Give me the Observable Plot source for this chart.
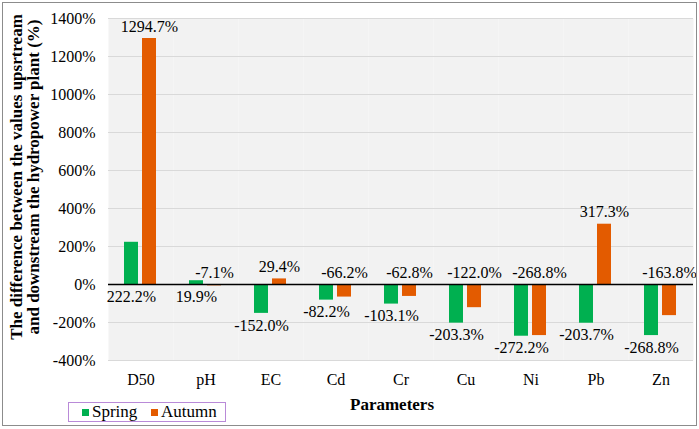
<!DOCTYPE html>
<html>
<head>
<meta charset="utf-8">
<script src="https://cdn.jsdelivr.net/npm/d3@7"></script>
<script src="https://cdn.jsdelivr.net/npm/@observablehq/plot@0.6"></script>
<style>
  html, body { margin: 0; padding: 0; background: #fff; }
  #wrap { position: relative; width: 699px; height: 429px; overflow: hidden; font-family: 'Liberation Serif', 'Times New Roman', serif; }
  #chart { position: absolute; left: 0; top: 0; }
  #chart svg, #chart svg text { font-family: 'Liberation Serif', 'Times New Roman', serif !important; }
  #border { position: absolute; left: 2px; top: 2px; width: 695px; height: 424px; box-sizing: border-box; border: 1.5px solid #8c8c8c; pointer-events: none; }
  #ytitle { position: absolute; left: 24.5px; top: 177px; transform: translate(-50%, -50%) rotate(-90deg); white-space: nowrap; text-align: center; font-weight: bold; font-size: 17px; line-height: 17px; color: #000; }
  #xtitle { position: absolute; left: 392px; top: 405px; transform: translate(-50%, -50%); white-space: nowrap; font-weight: bold; font-size: 17px; color: #000; }
  #legend { position: absolute; left: 68px; top: 402px; width: 158px; height: 20px; box-sizing: border-box; border: 1px solid #b98ad8; font-size: 17px; color: #000; }
  .sw { display: inline-block; width: 7px; height: 7px; margin-right: 3px; }
  .item { display: flex; align-items: center; }
</style>
</head>
<body>
<div id="wrap">
  <div id="chart"></div>
  <div id="ytitle">The difference between the values upsrtream<br>and downstream the hydropower plant (%)</div>
  <div id="xtitle">Parameters</div>
  <div id="legend"></div>
  <div id="border"></div>
</div>
<script>
const params = ["D50", "pH", "EC", "Cd", "Cr", "Cu", "Ni", "Pb", "Zn"];
const spring = [222.2, 19.9, -152.0, -82.2, -103.1, -203.3, -272.2, -203.7, -268.8];
const autumn = [1294.7, -7.1, 29.4, -66.2, -62.8, -122.0, -268.8, 317.3, -163.8];
const seasons = ["Spring", "Autumn"];
const seasonColors = ["#00b050", "#e35b00"];
const yTicks = [-400, -200, 0, 200, 400, 600, 800, 1000, 1200, 1400];

const serif = "'Liberation Serif', 'Times New Roman', serif";
const data = params.flatMap((p, i) => [
  {param: p, season: "Spring", value: spring[i]},
  {param: p, season: "Autumn", value: autumn[i]}
]);
const springData = data.filter(d => d.season === "Spring");
const autumnData = data.filter(d => d.season === "Autumn");
const fmt = d => d.value.toFixed(1) + "%";

const chart = Plot.plot({
  width: 699,
  height: 429,
  marginLeft: 106,
  marginRight: 5,
  marginTop: 18,
  marginBottom: 69,
  style: {fontFamily: serif, fontSize: "16px", color: "black", background: "transparent"},
  fx: {domain: params, padding: 0, label: null},
  x: {domain: seasons, paddingInner: 0.22, paddingOuter: 0.84, axis: null},
  y: {domain: [-400, 1400], label: null},
  color: {domain: seasons, range: seasonColors},
  marks: [
    Plot.frame({fill: "#f2f2f2", stroke: "none"}),
    Plot.gridY(yTicks, {stroke: "#d9d9d9", strokeOpacity: 1}),
    Plot.barY(data, {fx: "param", x: "season", y: "value", fill: "season"}),
    Plot.ruleY([0], {stroke: "black", strokeWidth: 1.5}),
    Plot.text(springData, {fx: "param", x: "season", y: d => Math.min(d.value, 0), text: fmt, dy: 12, fontSize: 16, fontFamily: serif, fill: "black"}),
    Plot.text(autumnData, {fx: "param", x: "season", y: d => Math.max(d.value, 0), text: fmt, dy: -12, fontSize: 16, fontFamily: serif, fill: "black"}),
    Plot.axisY(yTicks, {tickFormat: d => d + "%", tickSize: 0, tickPadding: 13, fontSize: 16, fontFamily: serif, label: null}),
    Plot.axisFx({anchor: "bottom", tickSize: 0, tickPadding: 13, fontSize: 16, fontFamily: serif, label: null})
  ]
});
document.getElementById("chart").appendChild(chart);

const legend = document.getElementById("legend");
const positions = [13, 82];
seasons.forEach((s, i) => {
  const item = document.createElement("div");
  item.className = "item";
  item.style.position = "absolute";
  item.style.left = positions[i] + "px";
  item.style.top = "0px";
  item.style.height = "18px";
  const sw = document.createElement("span");
  sw.className = "sw";
  sw.style.background = seasonColors[i];
  const tx = document.createElement("span");
  tx.textContent = s;
  item.appendChild(sw);
  item.appendChild(tx);
  legend.appendChild(item);
});
</script>
</body>
</html>
